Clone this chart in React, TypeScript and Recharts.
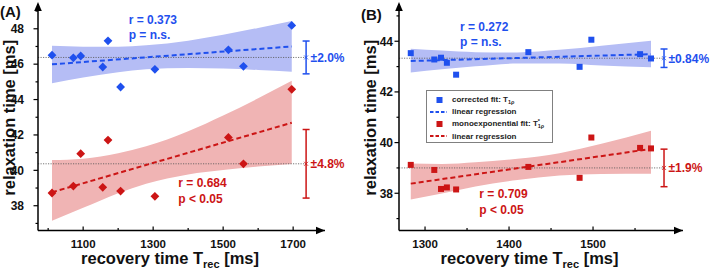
import { Area, ComposedChart, ErrorBar, Legend, Line, ReferenceDot, ReferenceLine, Scatter, XAxis, YAxis } from 'recharts'

const FONT = '"Liberation Sans", Arial, Helvetica, sans-serif'
const BLUE = '#1f50ee'
const RED = '#cc1515'
const BLUE_BAND = '#b5bdf5'
const RED_BAND = '#f0b4b4'

// ---- panel A (diamonds) ----
const recA = [1011, 1072, 1093, 1156, 1171, 1207, 1305, 1515, 1558, 1696]
const corrA = [46.51, 46.36, 46.46, 45.84, 47.32, 44.71, 45.71, 46.81, 45.88, 48.19]
const monoA = [38.72, 39.11, 40.94, 39.04, 41.71, 38.83, 38.53, 41.86, 40.37, 44.58]
const bandXA = [1011, 1100, 1200, 1280, 1400, 1500, 1600, 1696]
const corrLoA = [44.92, 45.25, 45.55, 45.71, 45.79, 45.75, 45.67, 45.57]
const corrHiA = [47.04, 46.99, 46.99, 47.07, 47.33, 47.66, 48.05, 48.44]
const monoLoA = [37.15, 37.88, 38.71, 39.24, 39.77, 40.02, 40.21, 40.36]
const monoHiA = [40.58, 40.66, 40.97, 41.36, 42.21, 43.1, 44.07, 45.06]
const fitXA = [1011, 1696]
const corrFitA = [45.99, 47.0]
const monoFitA = [38.76, 42.69]
const meanA = [46.38, 40.37]
const cvA = [2.0, 4.8]
const cvTextA = ['±2.0%', '±4.8%']
const statsA = ['r = 0.373', 'p = n.s.', 'r = 0.684', 'p < 0.05']

// ---- panel B (squares) ----
const recB = [1283, 1311, 1319, 1326, 1337, 1423, 1484, 1498, 1556, 1569]
const corrB = [43.53, 43.28, 43.35, 43.15, 42.68, 43.57, 42.99, 44.06, 43.49, 43.32]
const monoB = [39.12, 38.92, 38.17, 38.23, 38.15, 39.04, 38.61, 40.2, 39.79, 39.77]
const bandXB = [1283, 1320, 1360, 1410, 1460, 1510, 1569]
const corrLoB = [42.77, 42.89, 43.01, 43.12, 43.12, 43.04, 42.97]
const corrHiB = [43.7, 43.63, 43.57, 43.56, 43.66, 43.82, 44.02]
const monoLoB = [37.75, 37.99, 38.27, 38.52, 38.7, 38.76, 38.77]
const monoHiB = [39.17, 39.15, 39.22, 39.36, 39.58, 39.95, 40.47]
const fitXB = [1283, 1569]
const corrFitB = [43.22, 43.49]
const monoFitB = [38.38, 39.75]
const meanB = [43.33, 39.0]
const cvB = [0.84, 1.9]
const cvTextB = ['±0.84%', '±1.9%']
const statsB = ['r = 0.272', 'p = n.s.', 'r = 0.709', 'p < 0.05']

const legendRows = [
  { kind: 'square', color: BLUE, label: 'corrected fit: T', sub: '1ρ', sup: '' },
  { kind: 'dash', color: BLUE, label: 'linear regression', sub: '', sup: '' },
  { kind: 'square', color: RED, label: 'monoexponential fit: T', sub: '1ρ', sup: '*' },
  { kind: 'dash', color: RED, label: 'linear regression', sub: '', sup: '' },
]

type Panel = {
  xDomain: [number, number]
  yDomain: [number, number]
  xTicks: number[]
  xLabeled: number[]
  yTicks: number[]
  yLabeled: number[]
  yAxisWidth: number
  yLabelGap: number
  rightMargin: number
  rec: number[]
  corr: number[]
  mono: number[]
  bandX: number[]
  corrLo: number[]
  corrHi: number[]
  monoLo: number[]
  monoHi: number[]
  fitX: number[]
  corrFit: number[]
  monoFit: number[]
  means: number[]
  cv: number[]
  cvText: string[]
  errX: number
  stats: string[]
  statPos: [number, number][]
  marker: 'diamond' | 'square'
  legend: boolean
}

const panelA: Panel = {
  xDomain: [971, 1791],
  yDomain: [36.6, 49.4],
  xTicks: [1000, 1100, 1200, 1300, 1400, 1500, 1600, 1700],
  xLabeled: [1100, 1300, 1500, 1700],
  yTicks: [37, 38, 39, 40, 41, 42, 43, 44, 45, 46, 47, 48, 49],
  yLabeled: [38, 40, 42, 44, 46, 48],
  yAxisWidth: 38,
  yLabelGap: 14,
  rightMargin: 30,
  rec: recA, corr: corrA, mono: monoA,
  bandX: bandXA, corrLo: corrLoA, corrHi: corrHiA, monoLo: monoLoA, monoHi: monoHiA,
  fitX: fitXA, corrFit: corrFitA, monoFit: monoFitA,
  means: meanA, cv: cvA, cvText: cvTextA, errX: 1737,
  stats: statsA,
  statPos: [[1230, 48.27], [1230, 47.41], [1372, 39.08], [1372, 38.17]],
  marker: 'diamond',
  legend: false,
}

const panelB: Panel = {
  xDomain: [1269, 1607.1],
  yDomain: [36.53, 45.47],
  xTicks: [1300, 1350, 1400, 1450, 1500, 1550],
  xLabeled: [1300, 1400, 1500],
  yTicks: [37, 38, 39, 40, 41, 42, 43, 44, 45],
  yLabeled: [38, 40, 42, 44],
  yAxisWidth: 44,
  yLabelGap: 6,
  rightMargin: 27,
  rec: recB, corr: corrB, mono: monoB,
  bandX: bandXB, corrLo: corrLoB, corrHi: corrHiB, monoLo: monoLoB, monoHi: monoHiB,
  fitX: fitXB, corrFit: corrFitB, monoFit: monoFitB,
  means: meanB, cv: cvB, cvText: cvTextB, errX: 1584.5,
  stats: statsB,
  statPos: [[1341.6, 44.42], [1341.6, 43.81], [1364.6, 37.8], [1364.6, 37.18]],
  marker: 'square',
  legend: true,
}

const Diamond = (p: any) => {
  const r = 4.4
  return <path d={`M${p.cx},${p.cy - r}L${p.cx + r},${p.cy}L${p.cx},${p.cy + r}L${p.cx - r},${p.cy}Z`} fill={p.fill} />
}
const Square = (p: any) => <rect x={p.cx - 3} y={p.cy - 3} width={6} height={6} fill={p.fill} />
const Cross = (p: any) => (
  <path d={`M${p.cx - 2},${p.cy - 2}L${p.cx + 2},${p.cy + 2}M${p.cx - 2},${p.cy + 2}L${p.cx + 2},${p.cy - 2}`} stroke={p.fill} strokeWidth={0.8} />
)

const noteShape = (text: string, color: string, dx = 0, central = false) => (p: any) => (
  <text x={p.cx + dx} y={p.cy} dy={central ? '0.36em' : 0} fill={color} fontFamily={FONT} fontWeight={700} fontSize={12}>
    {text}
  </text>
)
const upArrow = (p: any) => <path d={`M${p.cx},${p.cy - 2}L${p.cx + 3.8},${p.cy + 7}L${p.cx - 3.8},${p.cy + 7}Z`} fill="#000" />
const rightArrow = (p: any) => <path d={`M${p.cx},${p.cy}L${p.cx - 9},${p.cy - 3.8}L${p.cx - 9},${p.cy + 3.8}Z`} fill="#000" />

function makeYTick(labeled: number[], gap: number) {
  return (p: any) => {
    const v = p.payload.value
    const major = labeled.includes(v)
    return (
      <g>
        <line x1={p.x - (major ? 4.5 : 2.5)} x2={p.x} y1={p.y} y2={p.y} stroke="#000" strokeWidth={1.2} />
        {major && (
          <text x={p.x - gap} y={p.y} dy="0.36em" textAnchor="end" fontFamily={FONT} fontWeight={700} fontSize={12} fill="#111">
            {v}
          </text>
        )}
      </g>
    )
  }
}

function makeXTick(labeled: number[]) {
  return (p: any) => {
    const v = p.payload.value
    const major = labeled.includes(v)
    return (
      <g>
        <line x1={p.x} x2={p.x} y1={p.y} y2={p.y - (major ? 4 : 2.5)} stroke="#000" strokeWidth={1.2} />
        {major && (
          <text x={p.x} y={p.y + 13.5} dy="0.36em" textAnchor="middle" fontFamily={FONT} fontWeight={700} fontSize={11.5} fill="#111">
            {v}
          </text>
        )}
      </g>
    )
  }
}

const xTitle = (props: any) => {
  const vb = props.viewBox
  return (
    <text x={vb.x + vb.width / 2 - 11.5} y={vb.y + 33.5} textAnchor="middle" fontFamily={FONT} fontWeight={700} fontSize={16.5} fill="#111">
      recovery time T
      <tspan fontSize={11} dy={4}>rec</tspan>
      <tspan dy={-4}> [ms]</tspan>
    </text>
  )
}

const yTitle = (props: any) => {
  const vb = props.viewBox
  const cx = vb.x + vb.width - 29
  const cy = vb.y + vb.height / 2 + 0.5
  return (
    <text x={cx} y={cy} dy="0.36em" transform={`rotate(-90 ${cx} ${cy})`} textAnchor="middle" fontFamily={FONT} fontWeight={700} fontSize={16.5} fill="#111">
      relaxation time [ms]
    </text>
  )
}

function LegendBox() {
  return (
    <div
      style={{
        width: 127,
        height: 53,
        boxSizing: 'border-box',
        border: '1px solid #808080',
        background: '#fff',
        paddingTop: 2.5,
        fontFamily: FONT,
        fontWeight: 700,
        fontSize: 8,
        color: '#222',
      }}
    >
      {legendRows.map((row, i) => (
        <div key={i} style={{ height: 12.2, display: 'flex', alignItems: 'center', whiteSpace: 'nowrap' }}>
          <svg width={25} height={10} style={{ flex: 'none' }}>
            {row.kind === 'square' ? (
              <rect x={9.5} y={2} width={6} height={6} fill={row.color} />
            ) : (
              <line x1={3} x2={20} y1={5} y2={5} stroke={row.color} strokeWidth={1.8} strokeDasharray="3.5 2" />
            )}
          </svg>
          <span>{row.label}</span>
          {row.sub && (
            <span style={{ display: 'inline-flex', flexDirection: 'column', fontSize: 5.5, lineHeight: '5px', marginTop: row.sup ? 1 : 6 }}>
              {row.sup && <span>{row.sup}</span>}
              <span>{row.sub}</span>
            </span>
          )}
        </div>
      ))}
    </div>
  )
}

function PanelChart({ cfg }: { cfg: Panel }) {
  const rows = cfg.bandX.map((x, i) => ({
    x,
    corrBand: [cfg.corrLo[i], cfg.corrHi[i]],
    monoBand: [cfg.monoLo[i], cfg.monoHi[i]],
  }))
  const corrPts = cfg.rec.map((x, i) => ({ x, y: cfg.corr[i] }))
  const monoPts = cfg.rec.map((x, i) => ({ x, y: cfg.mono[i] }))
  const corrFit = cfg.fitX.map((x, i) => ({ x, y: cfg.corrFit[i] }))
  const monoFit = cfg.fitX.map((x, i) => ({ x, y: cfg.monoFit[i] }))
  const colors = [BLUE, RED]
  const errPts = cfg.means.map((m, i) => [{ x: cfg.errX, y: m, err: (m * cfg.cv[i]) / 100 }])
  const Marker = cfg.marker === 'diamond' ? Diamond : Square

  return (
    <ComposedChart width={355} height={270} data={rows} margin={{ top: 4, right: cfg.rightMargin, bottom: 0, left: 0 }}>
      <XAxis
        type="number"
        dataKey="x"
        domain={cfg.xDomain}
        ticks={cfg.xTicks}
        interval={0}
        allowDataOverflow
        height={39.5}
        tickSize={0}
        tickMargin={0}
        tickLine={false}
        tick={makeXTick(cfg.xLabeled)}
        axisLine={{ stroke: '#000', strokeWidth: 1.5 }}
        label={xTitle}
      />
      <YAxis
        type="number"
        domain={cfg.yDomain}
        ticks={cfg.yTicks}
        interval={0}
        allowDataOverflow
        width={cfg.yAxisWidth}
        tickSize={0}
        tickMargin={0}
        tickLine={false}
        tick={makeYTick(cfg.yLabeled, cfg.yLabelGap)}
        axisLine={{ stroke: '#000', strokeWidth: 1.5 }}
        label={yTitle}
      />
      <Area type="monotone" dataKey="corrBand" stroke="none" fill={BLUE_BAND} fillOpacity={1} isAnimationActive={false} />
      <Area type="monotone" dataKey="monoBand" stroke="none" fill={RED_BAND} fillOpacity={1} isAnimationActive={false} />
      {cfg.means.map((m, i) => (
        <ReferenceLine
          key={`mean${i}`}
          segment={[{ x: cfg.xDomain[0], y: m }, { x: cfg.errX, y: m }]}
          stroke="#555"
          strokeWidth={0.8}
          strokeDasharray="1.2 1.3"
        />
      ))}
      <Line data={corrFit} dataKey="y" stroke={BLUE} strokeWidth={2} strokeDasharray="5 3" dot={false} isAnimationActive={false} />
      <Line data={monoFit} dataKey="y" stroke={RED} strokeWidth={2} strokeDasharray="5 3" dot={false} isAnimationActive={false} />
      <Scatter data={corrPts} dataKey="y" fill={BLUE} shape={Marker} isAnimationActive={false} />
      <Scatter data={monoPts} dataKey="y" fill={RED} shape={Marker} isAnimationActive={false} />
      {errPts.map((d, i) => (
        <Scatter key={`err${i}`} data={d} dataKey="y" fill={colors[i]} shape={Cross} isAnimationActive={false}>
          <ErrorBar dataKey="err" direction="y" width={3.5} stroke={colors[i]} strokeWidth={1.5} isAnimationActive={false} />
        </Scatter>
      ))}
      {cfg.means.map((m, i) => (
        <ReferenceDot key={`cv${i}`} x={cfg.errX} y={m} r={0} shape={noteShape(cfg.cvText[i], colors[i], 4.5, true)} />
      ))}
      {cfg.stats.map((s, i) => (
        <ReferenceDot key={`st${i}`} x={cfg.statPos[i][0]} y={cfg.statPos[i][1]} r={0} shape={noteShape(s, colors[i < 2 ? 0 : 1])} />
      ))}
      <ReferenceDot x={cfg.xDomain[0]} y={cfg.yDomain[1]} r={0} shape={upArrow} />
      <ReferenceDot x={cfg.xDomain[1]} y={cfg.yDomain[0]} r={0} shape={rightArrow} />
      {cfg.legend && (
        <Legend
          layout="vertical"
          align="center"
          verticalAlign="middle"
          content={() => <LegendBox />}
          wrapperStyle={{ position: 'absolute', left: 71, top: 90, width: 127, height: 53 }}
        />
      )}
    </ComposedChart>
  )
}

const panelTag: React.CSSProperties = {
  position: 'absolute',
  fontFamily: FONT,
  fontWeight: 700,
  fontSize: 15,
  color: '#111',
  lineHeight: 1,
}

export default function App() {
  return (
    <div style={{ position: 'absolute', left: 0, top: 0, width: 710, height: 270, background: '#fff', overflow: 'hidden' }}>
      <div style={{ position: 'absolute', left: 0, top: 0 }}>
        <PanelChart cfg={panelA} />
      </div>
      <div style={{ position: 'absolute', left: 355, top: 0 }}>
        <PanelChart cfg={panelB} />
      </div>
      <div style={{ ...panelTag, left: 0, top: 4 }}>(A)</div>
      <div style={{ ...panelTag, left: 361, top: 6.5 }}>(B)</div>
    </div>
  )
}
